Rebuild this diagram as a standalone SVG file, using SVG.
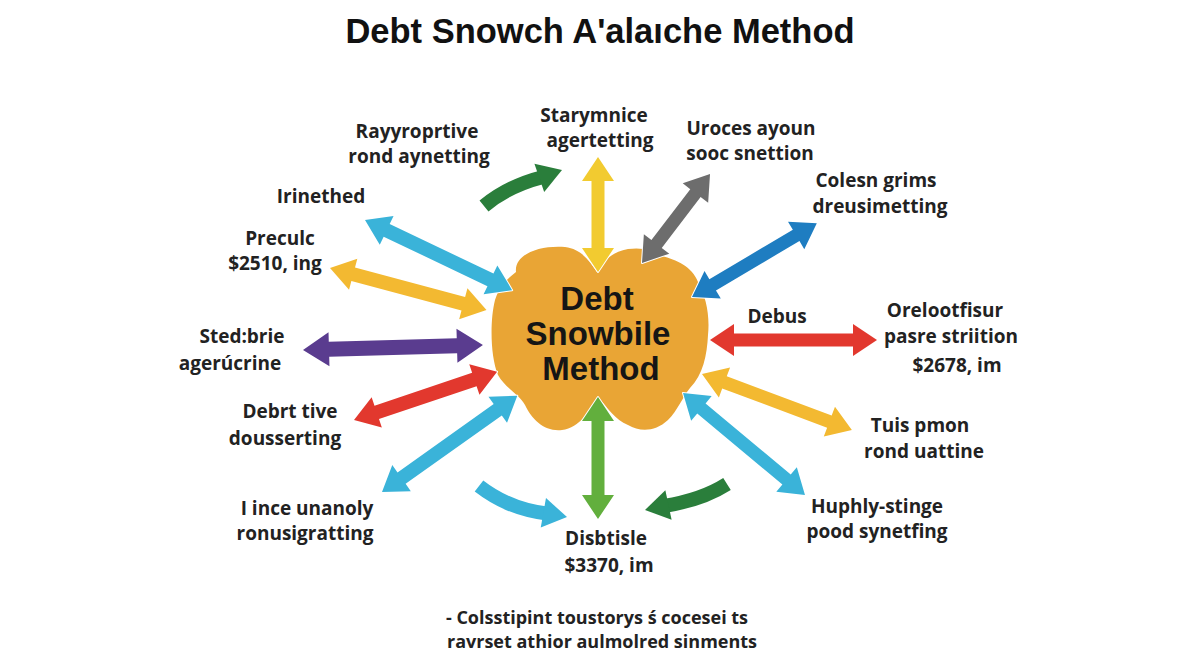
<svg xmlns="http://www.w3.org/2000/svg" width="1200" height="654" viewBox="0 0 1200 654">
<style>
.t{font-family:"Open Sans","Noto Sans","Liberation Sans",sans-serif;font-weight:700;font-size:19px;fill:#222;text-anchor:middle}
.f{font-family:"Open Sans","Noto Sans","Liberation Sans",sans-serif;font-weight:700;font-size:18px;fill:#222;text-anchor:middle}
.title{font-family:"Liberation Sans",Arial,sans-serif;font-weight:700;font-size:34.5px;fill:#111;text-anchor:middle}
.ct{font-family:"Liberation Sans",Arial,sans-serif;font-weight:700;font-size:33px;fill:#151515;text-anchor:middle}
.a{stroke:#fff;stroke-width:2;stroke-linejoin:round;paint-order:stroke}
.c{fill:none;stroke-width:14}
</style>
<rect width="1200" height="654" fill="#fff"/>
<text class="title" x="600" y="43">Debt Snowch A'alaıche Method</text>

<g id="center">
<path d="M516,272 C514,254 540,245 565,247 C582,249 590,262 597,272 C604,260 612,252 628,249 C642,247 652,250 662,256 C676,260 692,266 698,282 C706,297 710,315 708,335 C707,355 703,375 690,388 C682,398 678,410 668,420 C655,432 640,432 628,425 C615,420 608,408 598,397 C590,410 580,428 562,430 C545,432 532,420 525,405 C520,395 505,388 498,375 C490,355 490,320 495,300 C500,285 506,280 516,272 Z" fill="#E9A535"/>
<text class="ct" x="597" y="310">Debt</text>
<text class="ct" x="598" y="345">Snowbile</text>
<text class="ct" x="601" y="380">Method</text>
</g>

<g id="connectors">
<path class="a" fill="#F2CB30" transform="translate(598,157) rotate(90)" d="M0,0 L24,-16 L24,-6.5 L91,-6.5 L91,-16 L115,0 L91,16 L91,6.5 L24,6.5 L24,16 Z"/>
<path class="a" fill="#6D6D6D" transform="translate(642,263) rotate(-52.6)" d="M0,0 L24,-16 L24,-6.5 L88,-6.5 L88,-16 L112,0 L88,16 L88,6.5 L24,6.5 L24,16 Z"/>
<path class="a" fill="#1E7DC1" transform="translate(692,297) rotate(-30.6)" d="M0,0 L24,-16 L24,-6.5 L121,-6.5 L121,-16 L145,0 L121,16 L121,6.5 L24,6.5 L24,16 Z"/>
<path class="a" fill="#E2382E" transform="translate(710,340)" d="M0,0 L24,-16 L24,-6.5 L143,-6.5 L143,-16 L167,0 L143,16 L143,6.5 L24,6.5 L24,16 Z"/>
<path class="a" fill="#F3B931" transform="translate(702,374) rotate(20.5)" d="M0,0 L24,-16 L24,-6.5 L136,-6.5 L136,-16 L160,0 L136,16 L136,6.5 L24,6.5 L24,16 Z"/>
<path class="a" fill="#3AB3D9" transform="translate(683,393) rotate(39.9)" d="M0,0 L24,-16 L24,-6.5 L135,-6.5 L135,-16 L159,0 L135,16 L135,6.5 L24,6.5 L24,16 Z"/>
<path class="a" fill="#62AF3D" transform="translate(598,397) rotate(90)" d="M0,0 L24,-16 L24,-6.5 L98,-6.5 L98,-16 L122,0 L98,16 L98,6.5 L24,6.5 L24,16 Z"/>
<path class="a" fill="#3AB3D9" transform="translate(382,492) rotate(-35.4)" d="M0,0 L24,-16 L24,-7 L142,-7 L142,-16 L166,0 L142,16 L142,7 L24,7 L24,16 Z"/>
<path class="a" fill="#E2382E" transform="translate(354,420) rotate(-18.6)" d="M0,0 L24,-16 L24,-7 L127,-7 L127,-16 L151,0 L127,16 L127,7 L24,7 L24,16 Z"/>
<path class="a" fill="#5A3C8F" transform="translate(303,350) rotate(-1.6)" d="M0,0 L26,-17 L26,-7.5 L154,-7.5 L154,-17 L180,0 L154,17 L154,7.5 L26,7.5 L26,17 Z"/>
<path class="a" fill="#F3B931" transform="translate(330,268) rotate(15)" d="M0,0 L24,-16 L24,-7 L138,-7 L138,-16 L162,0 L138,16 L138,7 L24,7 L24,16 Z"/>
<path class="a" fill="#3AB3D9" transform="translate(365,220) rotate(25.5)" d="M0,0 L24,-16 L24,-7 L139,-7 L139,-16 L163,0 L139,16 L139,7 L24,7 L24,16 Z"/>
<path class="c" stroke="#2A7E3B" d="M484,206 Q508,186 543,177"/>
<path fill="#2A7E3B" transform="translate(562,170) rotate(-19)" d="M0,0 L-24,-15 L-24,15 Z"/>
<path class="c" stroke="#2A7E3B" d="M727,484 Q702,500 664,506"/>
<path fill="#2A7E3B" transform="translate(645,510) rotate(168)" d="M0,0 L-24,-15 L-24,15 Z"/>
<path class="c" stroke="#3AB3D9" d="M479,486 Q510,510 550,514"/>
<path fill="#3AB3D9" transform="translate(567,517) rotate(10)" d="M0,0 L-24,-15 L-24,15 Z"/>
</g>

<g id="n1"><text class="t" x="417" y="138">Rayyroprtive</text><text class="t" x="419" y="163">rond aynetting</text></g>
<g id="n2"><text class="t" x="321" y="203">Irinethed</text></g>
<g id="n3"><text class="t" x="280" y="245">Preculc</text><text class="t" x="275" y="270">$2510, ing</text></g>
<g id="n4"><text class="t" x="242" y="343">Sted:brie</text><text class="t" x="230" y="370">agerúcrine</text></g>
<g id="n5"><text class="t" x="290" y="418">Debrt tive</text><text class="t" x="285" y="445">dousserting</text></g>
<g id="n6"><text class="t" x="307" y="515">I ince unanoly</text><text class="t" x="305" y="540">ronusigratting</text></g>
<g id="n7"><text class="t" x="594" y="122">Starymnice</text><text class="t" x="600" y="147">agertetting</text></g>
<g id="n8"><text class="t" x="751" y="135">Uroces ayoun</text><text class="t" x="750" y="160">sooc snettion</text></g>
<g id="n9"><text class="t" x="876" y="187">Colesn grims</text><text class="t" x="880" y="213">dreusimetting</text></g>
<g id="n10"><text class="t" x="777" y="323">Debus</text></g>
<g id="n11"><text class="t" x="945" y="317">Orelootfisur</text><text class="t" x="951" y="343">pasre striition</text><text class="t" x="957" y="372">$2678, im</text></g>
<g id="n12"><text class="t" x="920" y="432">Tuis pmon</text><text class="t" x="924" y="458">rond uattine</text></g>
<g id="n13"><text class="t" x="877" y="513">Huphly-stinge</text><text class="t" x="877" y="538">pood synetfing</text></g>
<g id="n14"><text class="t" x="606" y="545">Disbtisle</text><text class="t" x="609" y="572">$3370, im</text></g>
<g id="footer"><text class="f" x="597" y="624">- Colsstipint toustorys ś cocesei ts</text><text class="f" x="602" y="648">ravrset athior aulmolred sinments</text></g>
</svg>
